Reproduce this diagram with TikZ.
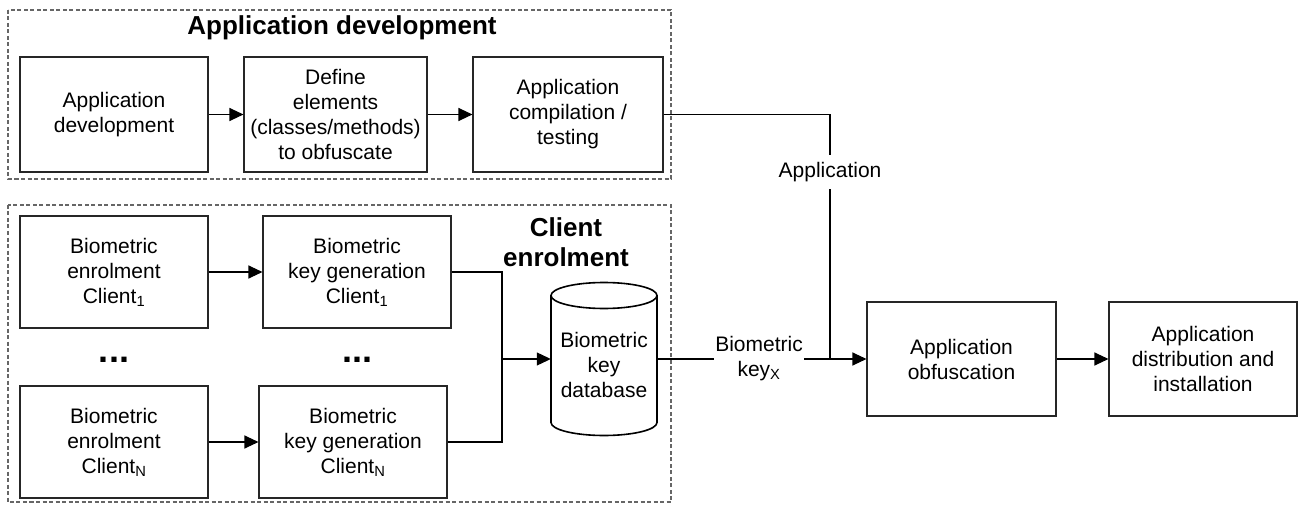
\documentclass[tikz,border=0pt]{standalone}
\usepackage{fontspec}
\setmainfont{Liberation Sans}
\usetikzlibrary{arrows.meta}

\tikzset{
  base/.style={font=\fontsize{21}{25}\selectfont},
  procbox/.style={base, draw=black!85, line width=1.1pt, align=center, inner sep=0pt,
                  minimum height=115pt},
  heading/.style={font=\bfseries\fontsize{26}{30}\selectfont, align=center, inner sep=0pt},
  dotrow/.style={font=\bfseries\fontsize{36}{36}\selectfont, inner sep=0pt},
  group/.style={draw=black!60, line width=1.3pt, dash pattern=on 4pt off 2.5pt},
  wire/.style={draw=black, line width=1.1pt},
  arr/.style={wire, -{Triangle[length=14pt,width=13pt]}},
  tag/.style={base, fill=white, align=center, inner xsep=1pt, inner ysep=7pt},
  cylline/.style={draw=black, line width=1.6pt},
}

\begin{document}
\begin{tikzpicture}[x=1pt,y=1pt]
  \useasboundingbox (0,0) rectangle (1300,504);

  % group frames
  \draw[group] (8,494) rectangle (671,325);
  \draw[group] (8,299) rectangle (671,2);

  % application development group
  \node[heading] (t1) at (342,476) {Application development};
  \node[procbox, minimum width=188pt] (ad)   at (114,389.5) {Application\\development};
  \node[procbox, minimum width=183pt] (def)  at (335.5,389.5) {Define\\elements\\(classes/methods)\\to obfuscate};
  \node[procbox, minimum width=190pt] (comp) at (568,389.5) {Application\\compilation /\\testing};

  % client enrolment group
  \node[heading] (t2) at (566,262) {Client\\enrolment};
  \node[procbox, minimum width=188pt, minimum height=112pt] (en1) at (114,232) {Biometric\\enrolment\\Client\textsubscript{1}};
  \node[procbox, minimum width=188pt, minimum height=112pt] (kg1) at (357,232) {Biometric\\key generation\\Client\textsubscript{1}};
  \node[procbox, minimum width=188pt, minimum height=112pt] (enN) at (114,62) {Biometric\\enrolment\\Client\textsubscript{N}};
  \node[procbox, minimum width=188pt, minimum height=112pt] (kgN) at (353,62) {Biometric\\key generation\\Client\textsubscript{N}};
  \node[dotrow] (d1) at (114,144) {...};
  \node[dotrow] (d2) at (357,144) {...};

  % key database cylinder
  \node[minimum width=106pt, minimum height=153pt, inner sep=0pt] (db) at (604,145) {};
  \draw[cylline] (551,208.5) -- (551,81.5)
        arc[start angle=180, end angle=360, x radius=53pt, y radius=13pt] -- (657,208.5);
  \draw[cylline] (604,208.5) ellipse [x radius=53pt, y radius=13pt];
  \node[base, align=center, inner sep=0pt] (dbt) at (604,139) {Biometric\\key\\database};

  % output stages
  \node[procbox, minimum width=189pt, minimum height=114pt] (obf)  at (961.5,145) {Application\\obfuscation};
  \node[procbox, minimum width=188pt, minimum height=114pt] (dist) at (1203,145) {Application\\distribution and\\installation};

  % junctions
  \coordinate (m) at (502,145);
  \coordinate (j) at (830,145);

  % connectors
  \draw[arr] (ad) -- (def);
  \draw[arr] (def) -- (comp);
  \draw[arr] (en1) -- (kg1);
  \draw[arr] (enN) -- (kgN);
  \draw[wire] (kg1.east) -| (m);
  \draw[wire] (kgN.east) -| (m);
  \draw[arr] (m) -- (db.west);
  \draw[wire] (db.east) -- (j);
  \draw[wire] (comp.east) -| (j);
  \draw[arr] (j) -- (obf.west);
  \draw[arr] (obf) -- (dist);

  % connector labels
  \node[tag] (lapp) at (830,332) {Application};
  \node[tag] (lkey) at (759,145.5) {Biometric\\key\textsubscript{X}};
\end{tikzpicture}
\end{document}
